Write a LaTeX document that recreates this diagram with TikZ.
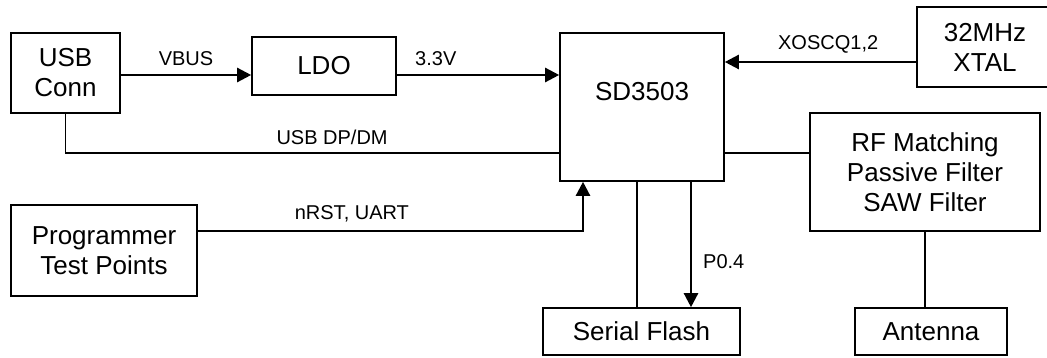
\documentclass[tikz,border=0pt]{standalone}
\usepackage{fontspec}
\setmainfont{Liberation Sans}
\usetikzlibrary{arrows.meta}

\begin{document}
\begin{tikzpicture}[x=1pt,y=-1pt,
  blk/.style={draw, line width=1.6pt, align=center, inner sep=0pt, font=\fontsize{26}{30}\selectfont},
  sig/.style={line width=2.4pt, -{Triangle[length=14pt,width=14pt]}},
  wire/.style={line width=1.6pt},
  lbl/.style={font=\fontsize{20}{24}\selectfont, inner sep=1pt}]
  \useasboundingbox (0,0) rectangle (1047,358);

%blocks:
  \node[blk, minimum width=109pt, minimum height=80pt] (usb) at (65.5,73) {USB\\Conn};
  \node[blk, minimum width=144pt, minimum height=58pt] (ldo) at (324,66) {LDO};
  \node[blk, minimum width=164pt, minimum height=148pt,
        label={[yshift=15pt, font=\fontsize{26}{30}\selectfont]center:SD3503}] (sd) at (642,107) {};
  \node[blk, minimum width=136pt, minimum height=80pt] (xtal) at (985,47) {32MHz\\XTAL};
  \node[blk, minimum width=230pt, minimum height=118pt] (rf) at (925,172) {RF Matching\\Passive Filter\\SAW Filter};
  \node[blk, minimum width=186pt, minimum height=91pt] (prog) at (104,250.5) {Programmer\\Test Points};
  \node[blk, minimum width=197pt, minimum height=47pt] (flash) at (641.5,331.5) {Serial Flash};
  \node[blk, minimum width=152pt, minimum height=47pt] (ant) at (931,331.5) {Antenna};

%signals:
  \draw[sig] ([yshift=-2pt]usb.east) -- ([yshift=-2pt]usb.east -| ldo.west) node[lbl, midway, above=7pt] {VBUS};
  \draw[sig] ([yshift=-9pt]ldo.east) -- ([yshift=-9pt]ldo.east -| sd.west) node[lbl, pos=0.24, above=7pt] {3.3V};
  \draw[sig] ([yshift=-15pt]xtal.west) -- ([yshift=-15pt]xtal.west -| sd.east) node[lbl, pos=0.46, above=7pt] {XOSCQ1,2};
  \draw[wire] (usb.south) |- ([yshift=-46pt]sd.west) node[lbl, pos=0.77, above=7pt] {USB DP/DM};
  \draw[wire] ([yshift=-46pt]sd.east) -- ([yshift=-46pt]sd.east -| rf.west);
  \draw[sig] ([yshift=19.5pt]prog.east) -| ([xshift=-59pt]sd.south) node[lbl, pos=0.2, above=7pt] {nRST, UART};
  \draw[wire] ([xshift=-5pt]sd.south) -- ([xshift=-5pt]sd.south |- flash.north);
  \draw[sig] ([xshift=49pt]sd.south) -- ([xshift=49pt]sd.south |- flash.north) node[lbl, pos=0.64, right=10pt] {P0.4};
  \draw[wire] (rf.south) -- (rf.south |- ant.north);
\end{tikzpicture}
\end{document}
